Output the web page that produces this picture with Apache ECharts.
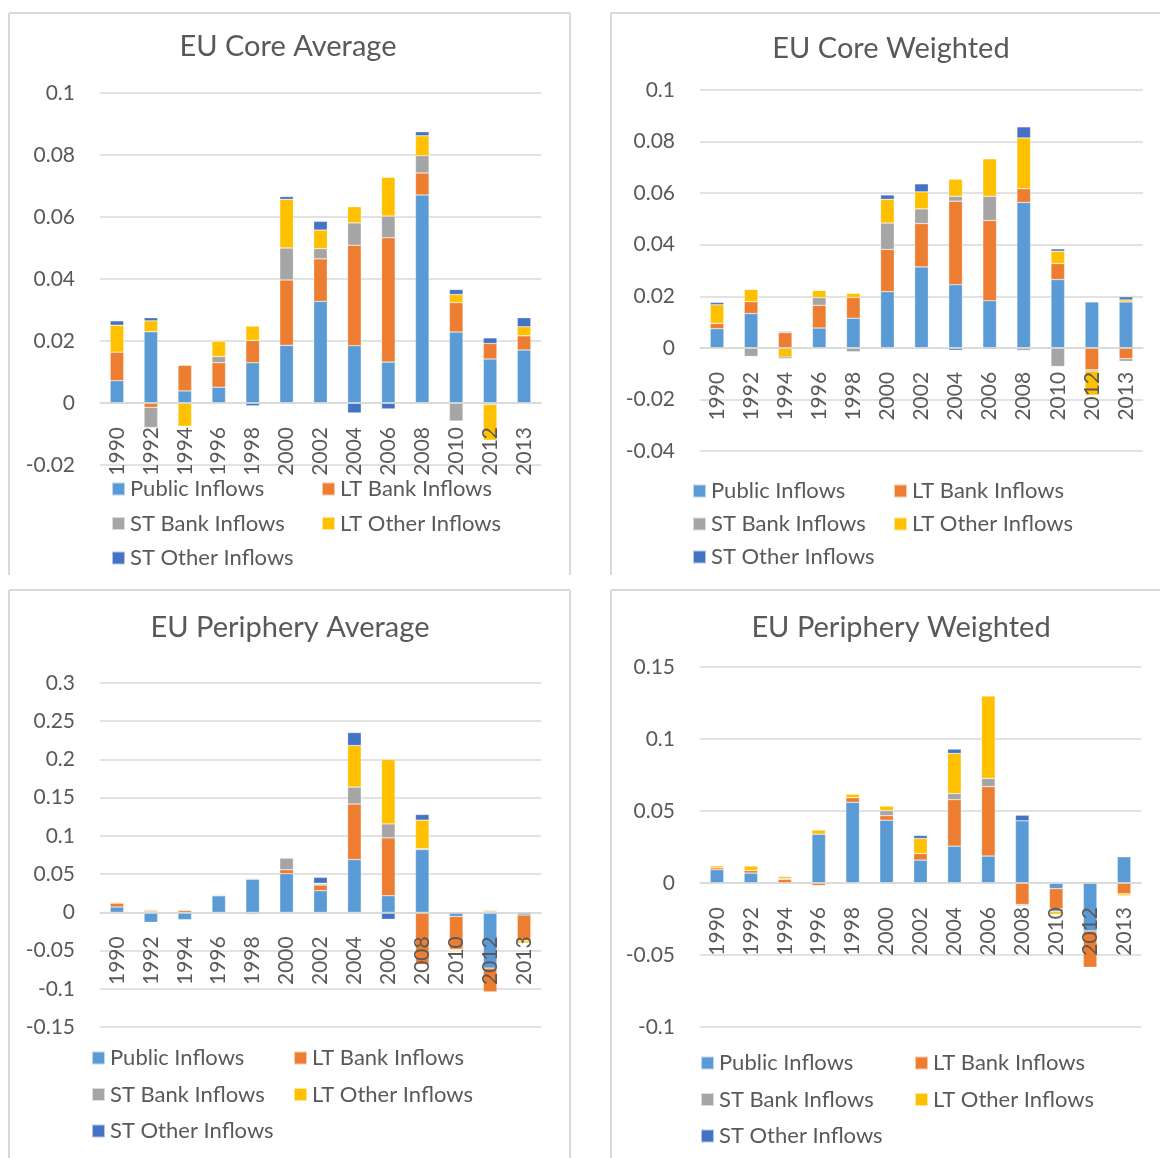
<!DOCTYPE html>
<html>
<head>
<meta charset="utf-8">
<title>EU Core / Periphery Inflows</title>
<style>
* { margin: 0; padding: 0; }
body { background: #fff; }
</style>
</head>
<body>
<div id="chart" style="width:1160px;height:1158px;"></div>
<script src="https://cdn.jsdelivr.net/npm/echarts@6/dist/echarts.min.js"></script>
<script>
var years = ['1990', '1992', '1994', '1996', '1998', '2000', '2002', '2004', '2006', '2008', '2010', '2012', '2013'];
var seriesNames = ['Public Inflows', 'LT Bank Inflows', 'ST Bank Inflows', 'LT Other Inflows', 'ST Other Inflows'];
var colors = ['#5B9BD5', '#ED7D31', '#A5A5A5', '#FFC000', '#4472C4'];

// EU Core Average
var coreAvgPublic  = [0.0072, 0.0230, 0.0039, 0.0051, 0.0130, 0.0186, 0.0328, 0.0185, 0.0132, 0.0671, 0.0229, 0.0142, 0.0171];
var coreAvgLtBank  = [0.0092, -0.0014, 0.0083, 0.0079, 0.0072, 0.0211, 0.0137, 0.0324, 0.0401, 0.0071, 0.0095, 0.0050, 0.0046];
var coreAvgStBank  = [-0.0004, -0.0065, 0, 0.0020, 0, 0.0103, 0.0033, 0.0072, 0.0070, 0.0056, -0.0058, -0.0005, 0];
var coreAvgLtOther = [0.0087, 0.0035, -0.0075, 0.0050, 0.0046, 0.0157, 0.0060, 0.0052, 0.0125, 0.0064, 0.0026, -0.0115, 0.0029];
var coreAvgStOther = [0.0014, 0.0010, 0, 0, -0.0009, 0.0009, 0.0028, -0.0032, -0.0019, 0.0013, 0.0016, 0.0018, 0.0029];

// EU Core Weighted
var coreWPublic  = [0.0074, 0.0133, 0, 0.0077, 0.0115, 0.0218, 0.0314, 0.0245, 0.0183, 0.0564, 0.0265, 0.0178, 0.0178];
var coreWLtBank  = [0.0021, 0.0046, 0.0059, 0.0088, 0.0080, 0.0164, 0.0168, 0.0324, 0.0311, 0.0053, 0.0062, -0.0085, -0.0042];
var coreWStBank  = [0, -0.0033, 0.0005, 0.0030, -0.0015, 0.0102, 0.0057, 0.0019, 0.0094, -0.0010, -0.0072, -0.0005, -0.0010];
var coreWLtOther = [0.0072, 0.0048, -0.0036, 0.0028, 0.0017, 0.0092, 0.0066, 0.0066, 0.0145, 0.0197, 0.0048, -0.0094, 0.0008];
var coreWStOther = [0.0009, 0, -0.0005, 0, 0, 0.0017, 0.0031, -0.0009, -0.0005, 0.0043, 0.0009, 0, 0.0012];

// EU Periphery Average
var perAvgPublic  = [0.0070, -0.0130, -0.0096, 0.0217, 0.0435, 0.0505, 0.0283, 0.0691, 0.0217, 0.0822, -0.0053, -0.0730, -0.0035];
var perAvgLtBank  = [0.0052, 0.0005, 0.0026, 0, 0, 0.0052, 0.0074, 0.0726, 0.0757, -0.0680, -0.0430, -0.0310, -0.0338];
var perAvgStBank  = [0, 0.0015, 0.0007, 0.0010, -0.0026, 0.0152, 0.0015, 0.0222, 0.0183, 0.0010, 0, 0.0015, 0];
var perAvgLtOther = [0.0013, 0.0017, 0.0007, 0.0012, 0.0013, -0.0010, 0.0008, 0.0543, 0.0843, 0.0374, -0.0020, 0.0015, -0.0030];
var perAvgStOther = [0, 0, 0, 0, 0, 0, 0.0078, 0.0170, -0.0091, 0.0074, 0, 0, 0];

// EU Periphery Weighted
var perWPublic  = [0.0092, 0.0069, 0, 0.0339, 0.0561, 0.0436, 0.0159, 0.0256, 0.0187, 0.0432, -0.0039, -0.0333, 0.0182];
var perWLtBank  = [0.0014, 0.0018, 0.0025, -0.0018, 0.0032, 0.0032, 0.0046, 0.0323, 0.0482, -0.0149, -0.0140, -0.0252, -0.0076];
var perWStBank  = [0, 0, 0.0007, 0, 0, 0.0035, 0, 0.0042, 0.0058, -0.0010, -0.0020, 0.0010, 0];
var perWLtOther = [0.0014, 0.0032, 0.0014, 0.0030, 0.0025, 0.0032, 0.0104, 0.0279, 0.0572, 0, -0.0018, 0, -0.0014];
var perWStOther = [0, 0, 0, 0, 0, 0, 0.0021, 0.0030, -0.0007, 0.0039, 0, 0, 0];

var font = 'Lato';
var textColor = '#595959';
var lineColor = '#d9d9d9';

var panels = [
    { title: 'EU Core Average', cx: 288, cy: 47,
      grid: { left: 100, top: 93, width: 441, height: 372 },
      min: -0.02, max: 0.1, interval: 0.02,
      cols: [111, 321], legendTop: 478, legendGap: 12.5,
      data: [coreAvgPublic, coreAvgLtBank, coreAvgStBank, coreAvgLtOther, coreAvgStOther] },
    { title: 'EU Core Weighted', cx: 891, cy: 49,
      grid: { left: 700, top: 90, width: 443, height: 361 },
      min: -0.04, max: 0.1, interval: 0.02,
      cols: [692, 893], legendTop: 480, legendGap: 11,
      data: [coreWPublic, coreWLtBank, coreWStBank, coreWLtOther, coreWStOther] },
    { title: 'EU Periphery Average', cx: 290, cy: 628,
      grid: { left: 100, top: 683, width: 441, height: 344 },
      min: -0.15, max: 0.3, interval: 0.05,
      cols: [91, 293], legendTop: 1047, legendGap: 14.5,
      data: [perAvgPublic, perAvgLtBank, perAvgStBank, perAvgLtOther, perAvgStOther] },
    { title: 'EU Periphery Weighted', cx: 901, cy: 628,
      grid: { left: 700, top: 667, width: 441, height: 360 },
      min: -0.1, max: 0.15, interval: 0.05,
      cols: [700, 914], legendTop: 1052, legendGap: 14.5,
      data: [perWPublic, perWLtBank, perWStBank, perWLtOther, perWStOther] }
];

var grids = [], xAxes = [], yAxes = [], series = [], legends = [], graphics = [];

// panel frames
var frames = [
    [9, 13, 570, 13], [9, 13, 9, 575], [570, 13, 570, 575],
    [611, 13, 1160, 13], [611, 13, 611, 575],
    [9, 590, 570, 590], [9, 590, 9, 1158], [570, 590, 570, 1158],
    [611, 590, 1160, 590], [611, 590, 611, 1158]
];
frames.forEach(function (f) {
    graphics.push({
        type: 'line', silent: true,
        shape: { x1: f[0], y1: f[1], x2: f[2], y2: f[3] },
        style: { stroke: lineColor, lineWidth: 2 }
    });
});

panels.forEach(function (p, i) {
    grids.push(p.grid);
    graphics.push({
        type: 'text', x: p.cx, y: p.cy, silent: true,
        style: { text: p.title, fill: textColor, font: '29px ' + font, textAlign: 'center', textVerticalAlign: 'middle' }
    });
    // category axis sits on the zero line (lifted from the grid bottom)
    var zeroLift = p.grid.height * (0 - p.min) / (p.max - p.min);
    xAxes.push({
        type: 'category', gridIndex: i, data: years, z: 10,
        position: 'bottom', offset: -zeroLift,
        axisLine: { onZero: false, lineStyle: { color: lineColor, width: 1.5 } },
        axisTick: { show: false },
        axisLabel: { rotate: 90, margin: 24, fontSize: 21, color: textColor, fontFamily: font }
    });
    yAxes.push({
        type: 'value', gridIndex: i, min: p.min, max: p.max, interval: p.interval,
        axisLine: { show: false }, axisTick: { show: false },
        splitLine: { lineStyle: { color: lineColor, width: 1.5 } },
        axisLabel: { margin: 25, fontSize: 21, color: textColor, fontFamily: font }
    });
    seriesNames.forEach(function (name, k) {
        series.push({
            type: 'bar', name: name, xAxisIndex: i, yAxisIndex: i,
            stack: 'panel' + i, barWidth: '40%',
            itemStyle: { color: colors[k], borderColor: 'rgba(255,255,255,0.6)', borderWidth: 0.5 },
            data: p.data[k]
        });
    });
    var colItems = [[seriesNames[0], seriesNames[2], seriesNames[4]], [seriesNames[1], seriesNames[3]]];
    colItems.forEach(function (items, c) {
        legends.push({
            orient: 'vertical', left: p.cols[c], top: p.legendTop, padding: 0,
            itemGap: p.legendGap, itemWidth: 13, itemHeight: 13, icon: 'rect',
            selectedMode: false, data: items,
            textStyle: { fontSize: 22, color: textColor, fontFamily: font }
        });
    });
});

var myChart = echarts.init(document.getElementById('chart'));
myChart.setOption({
    animation: false,
    color: colors,
    grid: grids,
    xAxis: xAxes,
    yAxis: yAxes,
    legend: legends,
    graphic: graphics,
    series: series
});
</script>
</body>
</html>
